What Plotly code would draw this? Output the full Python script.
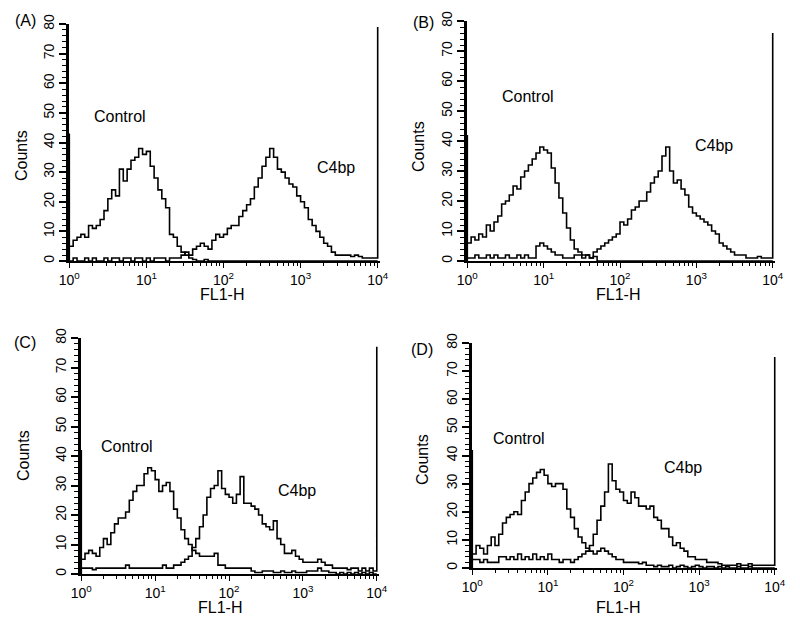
import plotly.graph_objects as go

# ---- data (counts per channel, channels at log10 steps of 0.05 from 10^0 to 10^4) ----
step = 0.05
a_control = [5, 7, 8, 9, 8, 12, 11, 12, 14, 17, 21, 24, 22, 31, 27, 31, 34, 35, 38, 36,
             37, 32, 28, 24, 21, 18, 9, 8, 5, 3, 2, 1, 0.5, 0, 0, 0.5, 0, 0, 0, 0,
             0, 0, 0, 0, 0, 0, 0, 0, 0, 0, 0, 0, 0, 0, 0, 0, 0, 0, 0, 0,
             0, 0, 0, 0, 0, 0, 0, 0, 0, 0, 0, 0, 0, 0, 0, 0, 0, 0, 0, 0, 0]
a_c4bp = [0, 1, 0, 0, 1, 0, 1, 0, 0, 1, 0, 1, 1, 0, 1, 1, 0, 1, 1, 0,
          1, 0, 1, 1, 1, 0, 1, 1, 1, 2, 3, 2, 4, 5, 6, 5, 4, 7, 9, 8,
          9, 11, 12, 12, 15, 17, 19, 21, 25, 28, 32, 35, 38, 35, 31, 30, 28, 26, 25, 22,
          20, 18, 14, 12, 10, 8, 6, 5, 3, 2, 2, 2, 2, 1.5, 2, 1.5, 1, 1, 1, 1, 1]
b_control = [6, 8, 7, 9, 8, 12, 10, 13, 15, 19, 20, 22, 25, 24, 28, 30, 32, 34, 36, 38,
             37, 36, 31, 26, 21, 16, 11, 7, 4, 3, 2, 2, 1, 1.5, 0, 0, 0, 0, 0, 0,
             0, 0, 0, 0, 0, 0, 0, 0, 0, 0, 0, 0, 0, 0, 0, 0, 0, 0, 0, 0,
             0, 0, 0, 0, 0, 0, 0, 0, 0, 0, 0, 0, 0, 0, 0, 0, 0, 0, 0, 0, 0]
b_c4bp = [1, 1, 2, 1, 1, 2, 1, 2, 1, 1, 2, 1, 1, 2, 1, 2, 1, 1, 5, 6,
          5, 4, 3, 2, 2, 1, 1, 1, 2, 2, 1, 2, 1, 3, 4, 5, 6, 7, 8, 9,
          13, 12, 14, 17, 18, 20, 20, 23, 26, 28, 30, 35, 38, 30, 26, 27, 24, 22, 18, 16,
          15, 14, 13, 12, 10, 9, 6, 5, 4, 3, 2, 2, 2, 1, 1, 1, 1.5, 1, 1, 1, 1]
c_control = [5, 7, 8, 7, 6, 9, 12, 10, 14, 17, 19, 19, 21, 25, 28, 30, 30, 34, 36, 35,
             32, 28, 30, 31, 28, 22, 19, 15, 12, 10, 8, 7, 6, 6, 6, 6, 7, 3, 3, 2,
             2, 2, 2, 2, 2, 2, 1, 0.5, 0.5, 1, 1, 1, 0.5, 0.5, 1, 0.5, 0.5, 1, 0.5, 0.5,
             0.5, 1, 1, 1, 2, 1, 1, 0.5, 0.5, 0, 0.5, 0, 0.5, 0, 0.5, 0, 0.5, 0, 0.5, 0, 0]
c_c4bp = [2, 2, 2, 1.5, 2, 2, 2, 2, 2, 2, 2, 2, 3, 2, 2, 2, 2, 2, 2, 2,
          2, 2, 3, 2, 2, 3, 3, 4, 5, 6, 9, 12, 16, 20, 26, 29, 30, 35, 29, 27,
          26, 24, 27, 33, 24, 24, 23, 22, 20, 17, 16, 15, 18, 12, 10, 7, 7, 8, 6, 5,
          4, 4, 4, 4, 5, 4, 3, 3, 2, 2, 2, 2, 1.5, 2, 2, 1, 2, 1, 2, 1, 1]
d_control = [5, 8, 7, 5, 8, 11, 8, 12, 16, 18, 19, 20, 19, 24, 27, 30, 32, 34, 35, 33,
             30, 29, 30, 30, 28, 21, 18, 14, 11, 9, 7, 6, 5, 6, 7, 6, 5, 4, 3, 3,
             2, 2, 2, 2, 1.5, 2, 1, 1, 0.5, 1, 0.5, 0.5, 1, 0, 0.5, 1, 0.5, 0, 0.5, 1,
             0.5, 0, 0.5, 0.5, 0, 0.5, 0, 0.5, 0, 0, 0.5, 0, 0, 0.5, 0, 0, 0, 0, 0, 0, 0]
d_c4bp = [3, 3, 2, 3, 2, 2, 2, 4, 4, 3, 4, 3, 5, 3, 4, 3, 5, 3, 4, 3,
          5, 3, 3, 2, 3, 3, 2, 3, 4, 5, 6, 8, 12, 17, 22, 27, 37, 31, 28, 27,
          24, 23, 27, 25, 22, 22, 21, 22, 18, 17, 14, 14, 11, 8, 9, 7, 6, 4, 4, 3,
          3, 3, 2, 2, 2, 1.5, 1, 1, 1, 1, 1.5, 1, 1, 1.5, 1, 1, 1, 1, 1, 1, 1]
# pile-up in the first channel (10^0) and the last channel (10^4)
first_channel = {"A": 43, "B": 42, "C": 42, "D": 42}
last_channel = {"A": 79, "B": 76, "C": 77, "D": 75}

panel_labels = ["(A)", "(B)", "(C)", "(D)"]
series_labels = ["Control", "C4bp"]
x_tick_vals = [1, 10, 100, 1000, 10000]
x_tick_text = ["10<sup>0</sup>", "10<sup>1</sup>", "10<sup>2</sup>", "10<sup>3</sup>", "10<sup>4</sup>"]
x_title = "FL1-H"
y_title = "Counts"

W, H = 800, 627
FONT = "Liberation Sans, Arial, sans-serif"

# pixel layout of each panel: (left, right, top, bottom) of the plot area
panels = {
    "A": dict(px=(69, 380), py=(24, 261), data=(a_control, a_c4bp),
              ctrl=(120, 117), c4=(336, 167), lab=(25, 21), cnt=(22, 156), fl=(222, 294)),
    "B": dict(px=(467, 775), py=(21, 261), data=(b_control, b_c4bp),
              ctrl=(528, 97), c4=(714, 145), lab=(423, 22), cnt=(418, 147), fl=(618, 294)),
    "C": dict(px=(81, 379), py=(338, 574), data=(c_control, c_c4bp),
              ctrl=(127, 447), c4=(297, 490), lab=(25, 342), cnt=(23, 456), fl=(220, 607)),
    "D": dict(px=(472, 777), py=(343, 568), data=(d_control, d_c4bp),
              ctrl=(519, 438), c4=(683, 467), lab=(422, 349), cnt=(422, 460), fl=(618, 607)),
}

def px2x(p):
    return p / W

def py2y(p):
    return 1 - p / H

minor_vals = [m * 10 ** k for k in range(4) for m in range(2, 10)]

fig = go.Figure()
annotations = []
layout = {}
for i, (key, p) in enumerate(panels.items()):
    n = "" if i == 0 else str(i + 1)
    xa, ya = "x" + n, "y" + n
    ctrl, c4 = p["data"]
    exps = [k * step for k in range(len(ctrl))]
    # control: starts with the first-channel pile-up
    xc = [1, 1] + [10 ** e for e in exps]
    yc = [0, first_channel[key]] + ctrl
    # C4bp: ends with the last-channel pile-up
    xb = [10 ** e for e in exps] + [10 ** 4]
    yb = c4 + [last_channel[key]]
    for xx, yy, nm in ((xc, yc, "Control"), (xb, yb, "C4bp")):
        fig.add_trace(go.Scatter(x=xx, y=yy, mode="lines", name=nm, xaxis=xa, yaxis=ya,
                                 line=dict(color="black", width=1.6, shape="hv"),
                                 showlegend=False, hoverinfo="skip"))
    layout["xaxis" + n] = dict(
        type="log", range=[-0.004, 4.03], domain=[px2x(p["px"][0]), px2x(p["px"][1])],
        anchor=ya, showline=True, linecolor="black", linewidth=1.5, mirror=False,
        automargin=False,
        ticks="outside", ticklen=5, tickwidth=1.2, tickcolor="black",
        tickmode="array", tickvals=x_tick_vals, ticktext=x_tick_text,
        tickfont=dict(family=FONT, size=14, color="black"),
        minor=dict(ticks="outside", ticklen=3, tickwidth=1, tickcolor="black",
                   tickmode="array", tickvals=minor_vals),
        showgrid=False, zeroline=False, fixedrange=True)
    layout["yaxis" + n] = dict(
        range=[0, 80], domain=[py2y(p["py"][1]), py2y(p["py"][0])],
        anchor=xa, showline=True, linecolor="black", linewidth=2.5,
        automargin=False,
        ticks="outside", ticklen=7, tickwidth=1.5, tickcolor="black",
        dtick=10, tick0=0, tickangle=-90,
        tickfont=dict(family=FONT, size=14, color="black"),
        minor=dict(ticks="outside", ticklen=4, tickwidth=1.2, tickcolor="black", dtick=2),
        showgrid=False, zeroline=False, fixedrange=True)

    def ann(text, pos, size, angle=0):
        annotations.append(dict(text=text, x=px2x(pos[0]), y=py2y(pos[1]), xref="paper",
                                yref="paper", showarrow=False, textangle=angle,
                                xanchor="center", yanchor="middle",
                                font=dict(family=FONT, size=size, color="black")))

    ann(panel_labels[i], p["lab"], 16)
    ann(series_labels[0], p["ctrl"], 16)
    ann(series_labels[1], p["c4"], 16)
    ann(y_title, p["cnt"], 16, -90)
    ann(x_title, p["fl"], 16)

fig.update_layout(width=W, height=H, margin=dict(l=0, r=0, t=0, b=0),
                  paper_bgcolor="white", plot_bgcolor="white",
                  annotations=annotations, **layout)
fig.write_html("out.html", config={"displayModeBar": False},
               post_script="document.body.style.margin='0';document.body.style.overflow='hidden';")
